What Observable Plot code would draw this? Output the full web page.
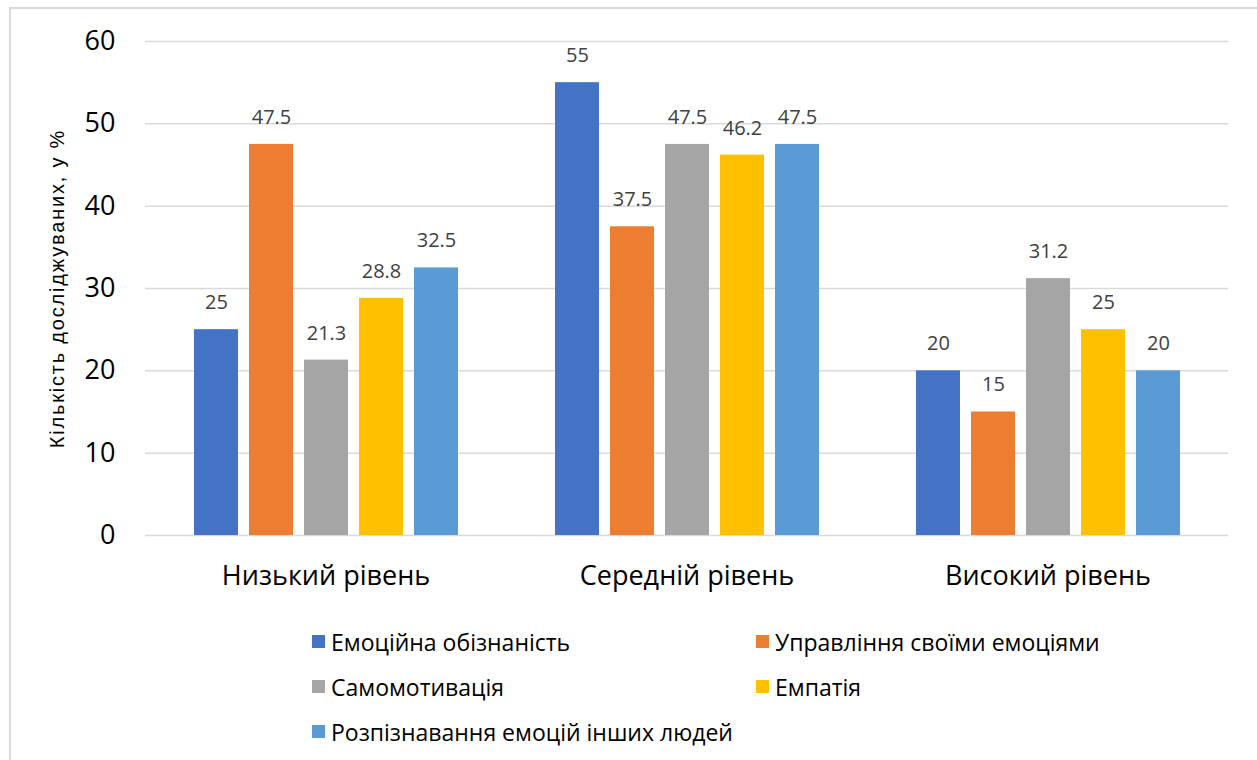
<!DOCTYPE html>
<html>
<head>
<meta charset="utf-8">
<script src="https://cdn.jsdelivr.net/npm/d3@7"></script>
<script src="https://cdn.jsdelivr.net/npm/@observablehq/plot@0.6"></script>
<style>
  html, body { margin: 0; padding: 0; background: #fff; }
  body { width: 1257px; height: 760px; position: relative; overflow: hidden; font-family: "Open Sans", sans-serif; }
  #frame { position: absolute; left: 9px; top: 7px; width: 1300px; height: 800px; border-left: 2px solid #d9d9d9; border-top: 2px solid #d9d9d9; box-sizing: border-box; pointer-events: none; }
  #chart { position: absolute; left: 0; top: 0; }
  #chart svg { overflow: visible; }
  #legend { position: absolute; left: 312px; top: 619px; display: grid; grid-template-columns: 444px auto; grid-auto-rows: 45px; font-size: 23px; color: #000; }
  .item { display: flex; align-items: center; height: 45px; }
  .sw { width: 13px; height: 13px; margin-right: 6px; flex: none; }
</style>
</head>
<body>
<div id="chart"></div>
<div id="legend"></div>
<div id="frame"></div>
<script>
const groups = ["Низький рівень", "Середній рівень", "Високий рівень"];
const series = ["Емоційна обізнаність", "Управління своїми емоціями", "Самомотивація", "Емпатія", "Розпізнавання емоцій інших людей"];
const colors = ["#4472C4", "#ED7D31", "#A5A5A5", "#FFC000", "#5B9BD5"];
const emotionalAwareness = [25, 55, 20];
const selfManagement = [47.5, 37.5, 15];
const selfMotivation = [21.3, 47.5, 31.2];
const empathy = [28.8, 46.2, 25];
const recognition = [32.5, 47.5, 20];
const yTicks = [0, 10, 20, 30, 40, 50, 60];
const yLabel = "Кількість досліджуваних, у %";

const valuesBySeries = [emotionalAwareness, selfManagement, selfMotivation, empathy, recognition];
const data = [];
groups.forEach((g, gi) => {
  series.forEach((s, si) => {
    data.push({group: g, series: s, value: valuesBySeries[si][gi]});
  });
});

const chart = Plot.plot({
  width: 1257,
  height: 600,
  marginLeft: 145,
  marginRight: 29,
  marginTop: 41,
  marginBottom: 65,
  style: {fontFamily: "Open Sans, sans-serif", background: "transparent"},
  fx: {domain: groups, padding: 0, label: null, axis: null},
  x: {domain: series, axis: null, paddingInner: 0.2, paddingOuter: 0.86},
  y: {domain: [0, 60], axis: null},
  color: {domain: series, range: colors},
  marks: [
    Plot.ruleY(yTicks, {stroke: "#d9d9d9", strokeWidth: 1.5}),
    Plot.barY(data, {fx: "group", x: "series", y: "value", fill: "series"}),
    Plot.text(data, {fx: "group", x: "series", y: "value", text: d => String(d.value), dy: -27, fill: "#404040", fontSize: 20}),
    Plot.axisY(yTicks, {tickSize: 0, tickPadding: 30, fontSize: 27, fill: "#000", label: null}),
    Plot.axisY([], {tickSize: 0, label: yLabel, labelAnchor: "center", labelOffset: 96, labelArrow: "none", fontSize: 20, fontFamily: "Liberation Sans, Arial, sans-serif", fill: "#000"}),
    Plot.axisFx({anchor: "bottom", tickSize: 0, tickPadding: 30, fontSize: 27, fill: "#000", label: null})
  ]
});
d3.select(chart).selectAll("text").filter(function() { return this.textContent === yLabel; }).attr("letter-spacing", "1.8px");
document.getElementById("chart").appendChild(chart);

const legend = document.getElementById("legend");
series.forEach((s, i) => {
  const it = document.createElement("div");
  it.className = "item";
  const sw = document.createElement("span");
  sw.className = "sw";
  sw.style.background = colors[i];
  const t = document.createElement("span");
  t.textContent = s;
  it.appendChild(sw);
  it.appendChild(t);
  legend.appendChild(it);
});
</script>
</body>
</html>
